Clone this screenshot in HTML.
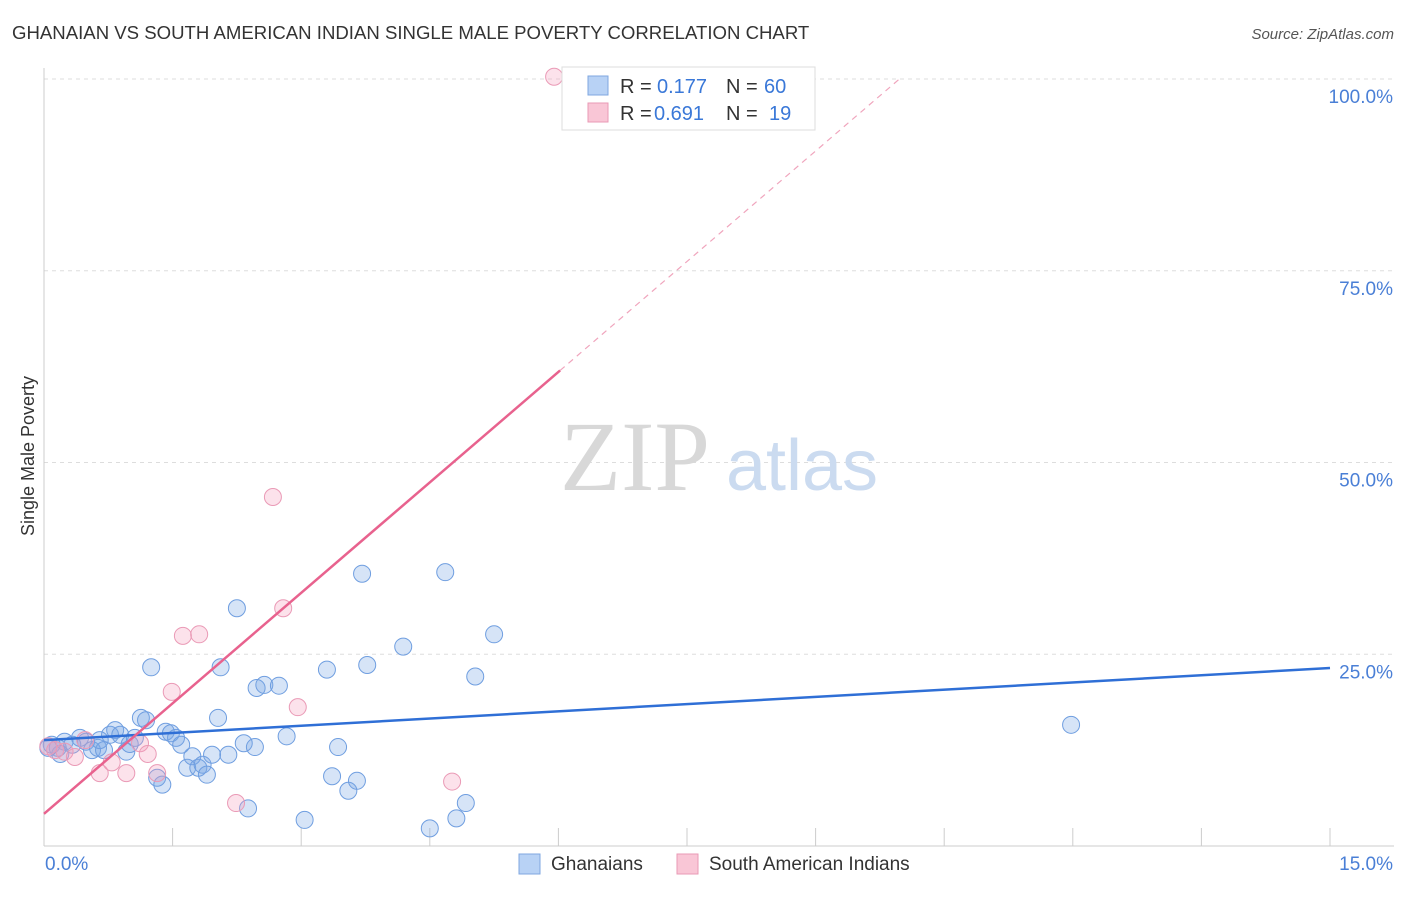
<!DOCTYPE html>
<html><head><meta charset="utf-8"><style>
body{margin:0;background:#fff;font-family:"Liberation Sans",sans-serif;}
</style></head><body>
<svg id="chart" width="1406" height="892" xmlns="http://www.w3.org/2000/svg" font-family="Liberation Sans, sans-serif">
<text x="12" y="39" font-size="18.6" fill="#333">GHANAIAN VS SOUTH AMERICAN INDIAN SINGLE MALE POVERTY CORRELATION CHART</text>
<text x="1394" y="39" font-size="15" fill="#555" font-style="italic" text-anchor="end">Source: ZipAtlas.com</text>
<g id="grid"></g>
<g><text x="635" y="490" font-size="100" style="font-family:'Liberation Serif',serif" fill="#d8d8d8" text-anchor="middle">ZIP</text><text x="802" y="490" font-size="72" fill="#cbdbf0" text-anchor="middle">atlas</text></g>
<g id="pts"></g>
<g id="lines"></g>
<text transform="translate(34,456) rotate(-90)" font-size="18" fill="#333" text-anchor="middle">Single Male Poverty</text>
<text x="45" y="870" font-size="19" fill="#4a7fd6">0.0%</text>
<text x="1393" y="870" font-size="19" fill="#4a7fd6" text-anchor="end">15.0%</text>
<g>
<rect x="562" y="67" width="253" height="63" fill="#fff" stroke="#ddd"/>
<rect x="588" y="76" width="20" height="19" fill="#b8d2f5" stroke="#7fa7e0"/>
<rect x="588" y="103" width="20" height="19" fill="#f9c6d6" stroke="#e99ab5"/>
<text y="93" font-size="20" fill="#333"><tspan x="620">R =</tspan><tspan x="657" fill="#3a78d8">0.177</tspan><tspan x="726">N =</tspan><tspan x="764" fill="#3a78d8">60</tspan></text>
<text y="120" font-size="20" fill="#333"><tspan x="620">R =</tspan><tspan x="654" fill="#3a78d8">0.691</tspan><tspan x="726">N =</tspan><tspan x="769" fill="#3a78d8">19</tspan></text>
</g>
<g>
<rect x="519" y="854" width="21" height="20" fill="#b8d2f5" stroke="#7fa7e0"/>
<text x="551" y="870" font-size="19" fill="#333">Ghanaians</text>
<rect x="677" y="854" width="21" height="20" fill="#f9c6d6" stroke="#e99ab5"/>
<text x="709" y="870" font-size="19" fill="#333">South American Indians</text>
</g>
</svg>
<script>
const yTicks=[25,50,75,100];
const yTickLabels=["25.0%","50.0%","75.0%","100.0%"];
const xTicks=[1.5,3,4.5,6,7.5,9,10.5,12,13.5,15];
const blueX=[0.09,0.16,0.24,0.33,0.42,0.49,0.56,0.63,0.70,0.77,0.83,0.89,0.96,1.00,1.06,1.13,1.19,1.25,1.32,1.38,1.42,1.48,1.54,1.60,1.67,1.73,1.80,1.85,1.90,1.96,2.03,2.06,2.15,2.25,2.33,2.38,2.46,2.48,2.57,2.74,2.83,3.04,3.30,3.36,3.43,3.55,3.65,3.71,3.77,4.19,4.50,4.68,4.81,4.92,5.03,5.25,11.98,0.19,0.05,0.65];
const blueY=[13.2,12.8,13.6,13.2,14.1,13.6,12.5,12.8,12.5,14.5,15.1,14.5,12.3,13.3,14.1,16.7,16.4,23.3,8.9,8.0,14.9,14.7,14.1,13.2,10.2,11.7,10.2,10.6,9.3,11.9,16.7,23.3,11.9,31.0,13.4,4.9,12.9,20.6,21.0,20.9,14.3,3.4,23.0,9.1,12.9,7.2,8.5,35.5,23.6,26.0,2.3,35.7,3.6,5.6,22.1,27.6,15.8,12.0,12.8,13.8];
const pinkX=[0.05,0.13,0.24,0.36,0.48,0.65,0.79,0.96,1.12,1.21,1.32,1.49,1.62,1.81,2.24,2.67,2.79,2.96,4.76,5.95];
const pinkY=[13.0,12.5,12.3,11.6,13.8,9.5,10.9,9.5,13.4,12.0,9.5,20.1,27.4,27.6,5.6,45.5,31.0,18.1,8.4,100.3];
const blueLine=[13.8,23.2], pinkLine=[4.2,62.0], pinkEndX=6.02;
const X0=44,X1=1330,Y0=846,Y100=79;
const sx=v=>X0+v/15*(X1-X0), sy=v=>Y0-v/100*(Y0-Y100);
const NS="http://www.w3.org/2000/svg";
function mk(p,t,a){const e=document.createElementNS(NS,t);for(const k in a)e.setAttribute(k,a[k]);p.appendChild(e);return e;}
const g=document.getElementById('grid');
yTicks.forEach((t,i)=>{
 const l=mk(g,'line',{x1:X0,x2:1394,y1:sy(t),y2:sy(t),stroke:'#ddd','stroke-dasharray':'4,4'});
 
 
 const tx=mk(g,'text',{x:1393,y:sy(t)+24,'font-size':19,fill:'#4a7fd6','text-anchor':'end'});
 tx.textContent=yTickLabels[i];
 
 
});
mk(g,'line',{x1:X0,x2:1394,y1:Y0,y2:Y0,stroke:'#ccc'});
mk(g,'line',{x1:X0,x2:X0,y1:68,y2:Y0,stroke:'#ccc'});
xTicks.forEach(t=>{
 const l=mk(g,'line',{x1:sx(t),x2:sx(t),y1:828,y2:Y0,stroke:'#ccc'});
 
 
});
const p=document.getElementById('pts');
blueX.forEach((x,i)=>{
 const c=mk(p,'circle',{cx:sx(x),cy:sy(blueY[i]),r:8.5,fill:'rgba(120,165,230,0.3)',stroke:'#6f9ee0','stroke-width':1});
 
 
});
pinkX.forEach((x,i)=>{
 const c=mk(p,'circle',{cx:sx(x),cy:sy(pinkY[i]),r:8.5,fill:'rgba(245,160,190,0.3)',stroke:'#ea9ab6','stroke-width':1});
 
 
});
const L=document.getElementById('lines');
const bl=mk(L,'line',{x1:sx(0),y1:sy(blueLine[0]),x2:sx(15),y2:sy(blueLine[1]),stroke:'#2f6fd6','stroke-width':2.5});


const slope=(pinkLine[1]-pinkLine[0])/pinkEndX;
const pl=mk(L,'line',{x1:sx(0),y1:sy(pinkLine[0]),x2:sx(pinkEndX),y2:sy(pinkLine[1]),stroke:'#e8628e','stroke-width':2.5});


const xEnd=(100-pinkLine[0])/slope;
const pd=mk(L,'line',{x1:sx(pinkEndX),y1:sy(pinkLine[1]),x2:sx(xEnd),y2:sy(100),stroke:'#f0a5bd','stroke-width':1.2,'stroke-dasharray':'6,5'});


</script>
</body></html>
